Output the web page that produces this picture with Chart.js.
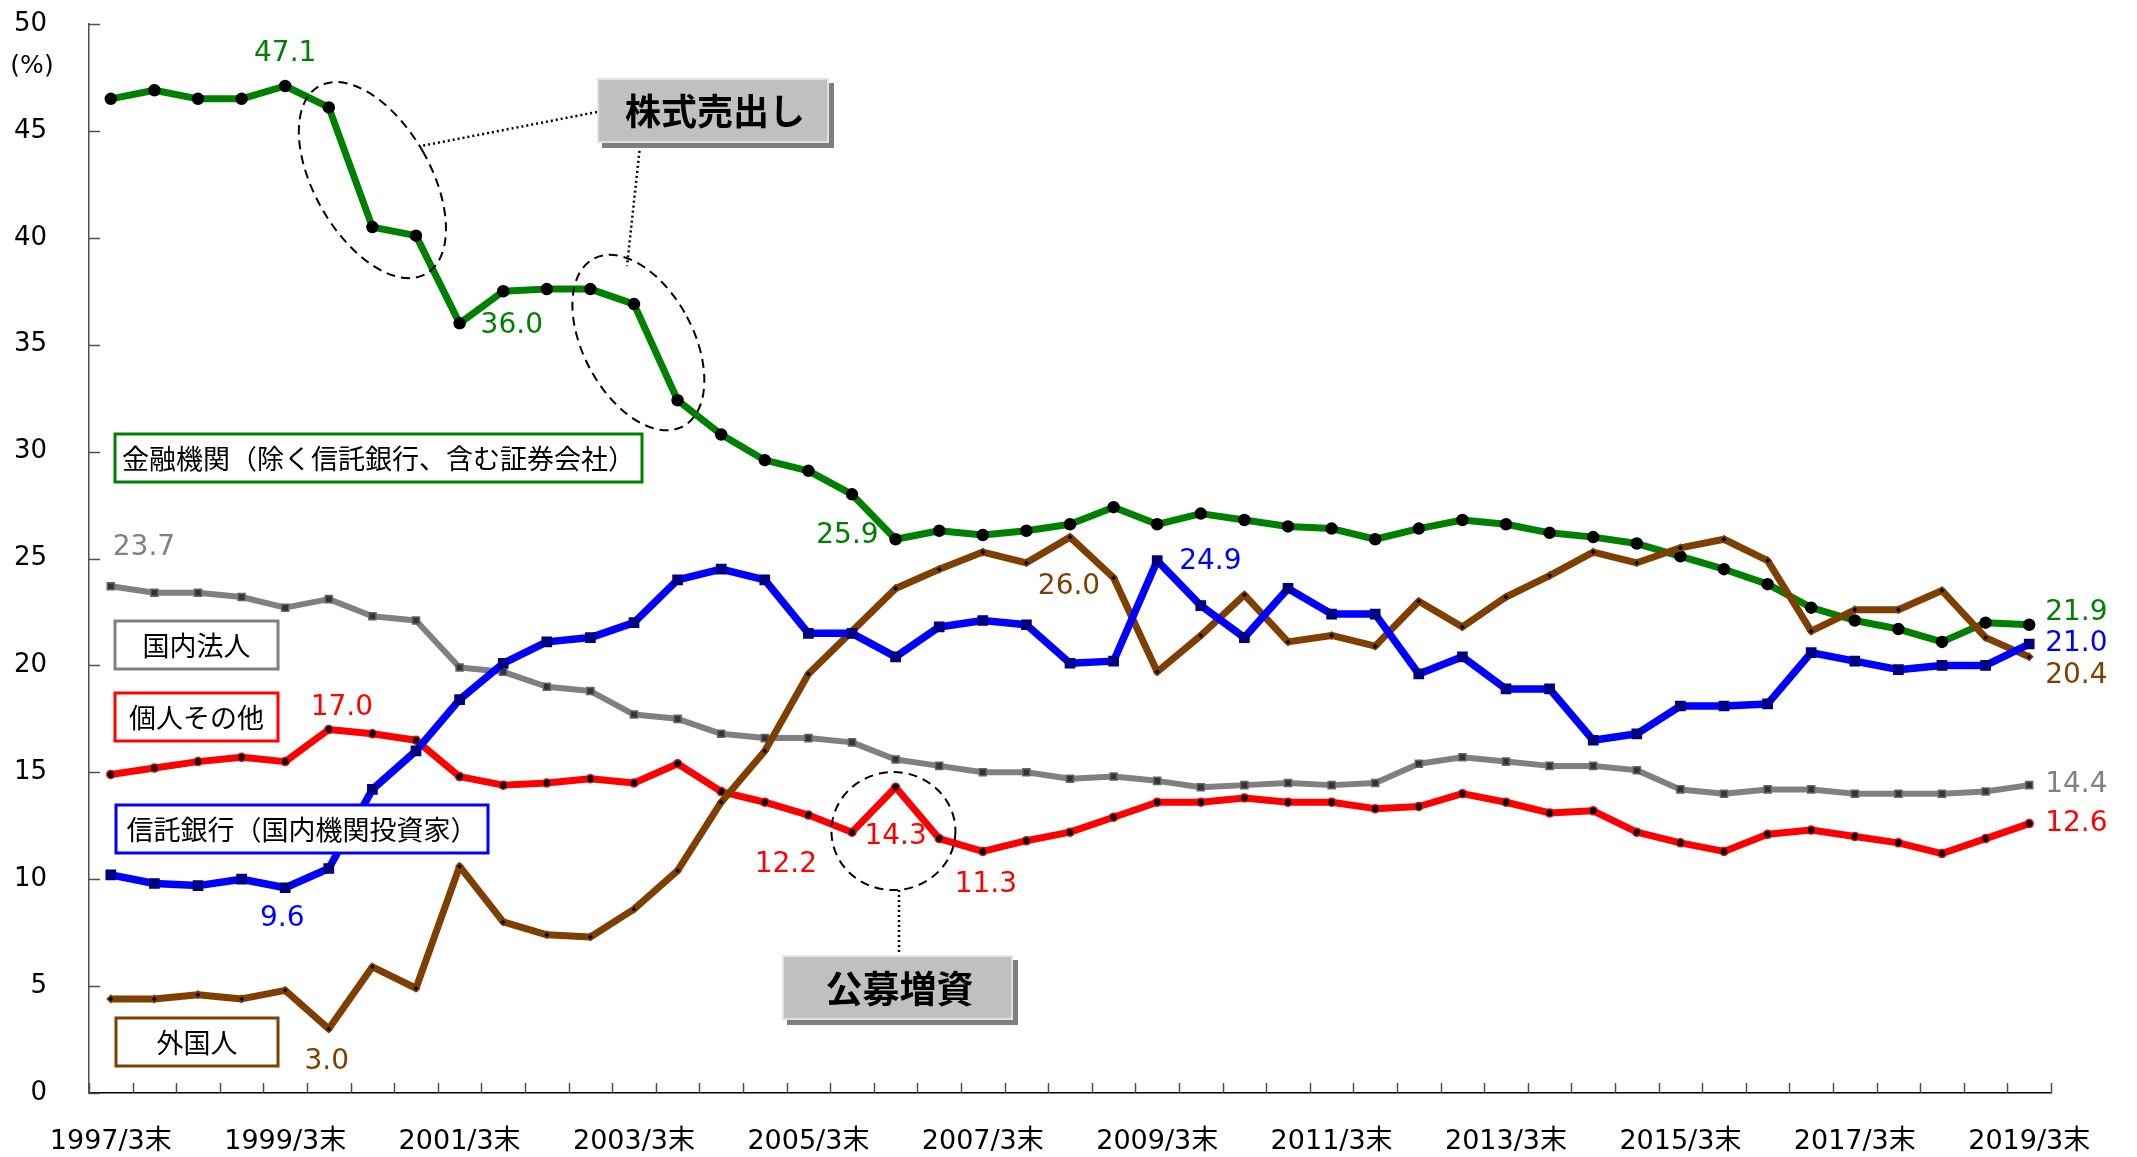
<!DOCTYPE html>
<html lang="ja">
<head>
<meta charset="utf-8">
<title>所有者別持株比率の推移</title>
<script src="https://cdn.jsdelivr.net/npm/chart.js@4.4.1/dist/chart.umd.min.js"></script>
<style>
  html, body { margin: 0; padding: 0; background: #fff; }
  #wrap { width: 2137px; height: 1157px; position: relative; }
</style>
</head>
<body>
<div id="wrap"><canvas id="chart"></canvas></div>
<script>
// half-yearly periods, 1997/3 .. 2019/3
const periods = [
  "1997/3末", "1997/9末", "1998/3末", "1998/9末", "1999/3末", "1999/9末",
  "2000/3末", "2000/9末", "2001/3末", "2001/9末", "2002/3末", "2002/9末",
  "2003/3末", "2003/9末", "2004/3末", "2004/9末", "2005/3末", "2005/9末",
  "2006/3末", "2006/9末", "2007/3末", "2007/9末", "2008/3末", "2008/9末",
  "2009/3末", "2009/9末", "2010/3末", "2010/9末", "2011/3末", "2011/9末",
  "2012/3末", "2012/9末", "2013/3末", "2013/9末", "2014/3末", "2014/9末",
  "2015/3末", "2015/9末", "2016/3末", "2016/9末", "2017/3末", "2017/9末",
  "2018/3末", "2018/9末", "2019/3末"
];

// 金融機関（除く信託銀行、含む証券会社）
const financial = [
  46.5, 46.9, 46.5, 46.5, 47.1, 46.1, 40.5, 40.1, 36.0, 37.5, 37.6, 37.6,
  36.9, 32.4, 30.8, 29.6, 29.1, 28.0, 25.9, 26.3, 26.1, 26.3, 26.6, 27.4,
  26.6, 27.1, 26.8, 26.5, 26.4, 25.9, 26.4, 26.8, 26.6, 26.2, 26.0, 25.7,
  25.1, 24.5, 23.8, 22.7, 22.1, 21.7, 21.1, 22.0, 21.9
];
// 信託銀行（国内機関投資家）
const trustBanks = [
  10.2, 9.8, 9.7, 10.0, 9.6, 10.5, 14.2, 16.0, 18.4, 20.1, 21.1, 21.3,
  22.0, 24.0, 24.5, 24.0, 21.5, 21.5, 20.4, 21.8, 22.1, 21.9, 20.1, 20.2,
  24.9, 22.8, 21.3, 23.6, 22.4, 22.4, 19.6, 20.4, 18.9, 18.9, 16.5, 16.8,
  18.1, 18.1, 18.2, 20.6, 20.2, 19.8, 20.0, 20.0, 21.0
];
// 個人その他
const individuals = [
  14.9, 15.2, 15.5, 15.7, 15.5, 17.0, 16.8, 16.5, 14.8, 14.4, 14.5, 14.7,
  14.5, 15.4, 14.1, 13.6, 13.0, 12.2, 14.3, 11.9, 11.3, 11.8, 12.2, 12.9,
  13.6, 13.6, 13.8, 13.6, 13.6, 13.3, 13.4, 14.0, 13.6, 13.1, 13.2, 12.2,
  11.7, 11.3, 12.1, 12.3, 12.0, 11.7, 11.2, 11.9, 12.6
];
// 国内法人
const corporations = [
  23.7, 23.4, 23.4, 23.2, 22.7, 23.1, 22.3, 22.1, 19.9, 19.7, 19.0, 18.8,
  17.7, 17.5, 16.8, 16.6, 16.6, 16.4, 15.6, 15.3, 15.0, 15.0, 14.7, 14.8,
  14.6, 14.3, 14.4, 14.5, 14.4, 14.5, 15.4, 15.7, 15.5, 15.3, 15.3, 15.1,
  14.2, 14.0, 14.2, 14.2, 14.0, 14.0, 14.0, 14.1, 14.4
];
// 外国人
const foreigners = [
  4.4, 4.4, 4.6, 4.4, 4.8, 3.0, 5.9, 4.9, 10.6, 8.0, 7.4, 7.3,
  8.6, 10.4, 13.6, 16.0, 19.6, 21.6, 23.6, 24.5, 25.3, 24.8, 26.0, 24.1,
  19.7, 21.4, 23.3, 21.1, 21.4, 20.9, 23.0, 21.8, 23.2, 24.2, 25.3, 24.8,
  25.5, 25.9, 24.9, 21.6, 22.6, 22.6, 23.5, 21.3, 20.4
];

const GREEN = "#008000";
const BLUE = "#0000ff";
const RED = "#ff0000";
const GRAY = "#808080";
const BROWN = "#7f3f00";

const FONT_NUM = "'DejaVu Sans', 'Noto Sans CJK JP', sans-serif";
const FONT_JP = "'Noto Sans CJK JP', 'DejaVu Sans', sans-serif";

// values written next to points: [series, index, colour, dx, dy, align]
const valueLabels = [
  [financial, 4, GREEN, 0, -32, "center"],
  [financial, 8, GREEN, 21, 2, "left"],
  [financial, 18, GREEN, -17, -4, "right"],
  [financial, 44, GREEN, 16, -12, "left"],
  [trustBanks, 4, BLUE, -3, 31, "center"],
  [trustBanks, 24, BLUE, 22, 1, "left"],
  [trustBanks, 44, BLUE, 16, 0, "left"],
  [individuals, 5, RED, 13, -22, "center"],
  [individuals, 17, RED, -35, 33, "right"],
  [individuals, 18, RED, 0, 49, "center"],
  [individuals, 20, RED, 3, 33, "center"],
  [individuals, 44, RED, 16, 0, "left"],
  [corporations, 0, GRAY, 2, -39, "left"],
  [corporations, 44, GRAY, 16, 0, "left"],
  [foreigners, 5, BROWN, -2, 33, "center"],
  [foreigners, 22, BROWN, -1, 50, "center"],
  [foreigners, 44, BROWN, 16, 19, "left"]
];

// boxed series names: text, colour, left offset from the y axis, top, width
const nameBoxes = [
  ["金融機関（除く信託銀行、含む証券会社）", GREEN, 26, 434, 527],
  ["国内法人", GRAY, 26, 621, 163],
  ["個人その他", RED, 26, 693, 163],
  ["信託銀行（国内機関投資家）", BLUE, 27, 805, 372],
  ["外国人", BROWN, 27, 1018, 162]
];

function drawCallout(ctx, text, left, top, w, h, size) {
  ctx.fillStyle = "#7f7f7f";
  ctx.fillRect(left + 5, top + 5, w, h);
  ctx.fillStyle = "#c0c0c0";
  ctx.fillRect(left, top, w, h);
  ctx.strokeStyle = "#e2e2e2";
  ctx.lineWidth = 2;
  ctx.strokeRect(left + 1, top + 1, w - 2, h - 2);
  ctx.fillStyle = "#000";
  ctx.font = "bold " + size + "px " + FONT_JP;
  ctx.textAlign = "center";
  ctx.textBaseline = "middle";
  ctx.fillText(text, left + w / 2 + 2, top + h / 2 + 1);
}

const decorations = {
  id: "decorations",
  afterDatasetsDraw(chart) {
    const { ctx, chartArea: area, scales: { x, y } } = chart;
    const px = (i) => x.getPixelForValue(i);
    const py = (v) => y.getPixelForValue(v);
    ctx.save();

    // inward tick marks
    ctx.strokeStyle = "#505050";
    ctx.lineWidth = 1.5;
    ctx.beginPath();
    for (let k = 0; k <= periods.length; k++) {
      const tx = Math.round(px(k - 0.5)) + 0.5;
      ctx.moveTo(tx, area.bottom);
      ctx.lineTo(tx, area.bottom - 10);
    }
    for (let v = 0; v <= 50; v += 5) {
      const ty = Math.round(py(v)) + 0.5;
      ctx.moveTo(area.left, ty);
      ctx.lineTo(area.left + 11, ty);
    }
    ctx.stroke();

    // unit
    ctx.fillStyle = "#000";
    ctx.font = "25px " + FONT_NUM;
    ctx.textAlign = "center";
    ctx.textBaseline = "middle";
    ctx.fillText("(%)", 32, 66);

    // value labels
    ctx.font = "28px " + FONT_NUM;
    for (const [data, i, color, dx, dy, align] of valueLabels) {
      ctx.fillStyle = color;
      ctx.textAlign = align;
      ctx.fillText(data[i].toFixed(1), px(i) + dx, py(data[i]) + dy);
    }

    // series name boxes
    ctx.font = "27px " + FONT_JP;
    for (const [text, color, left, top, w] of nameBoxes) {
      const bx = area.left + left;
      ctx.fillStyle = "#fff";
      ctx.fillRect(bx, top, w, 48);
      ctx.strokeStyle = color;
      ctx.lineWidth = 3;
      ctx.strokeRect(bx, top, w, 48);
      ctx.fillStyle = "#000";
      ctx.textAlign = "center";
      ctx.fillText(text, bx + w / 2, top + 25);
    }

    // dashed ellipses around the big moves
    ctx.strokeStyle = "#000";
    ctx.lineWidth = 2;
    ctx.setLineDash([9, 6]);
    ctx.beginPath();
    ctx.ellipse(px(6), py(42.7), 58, 108, -0.52, 0, Math.PI * 2);
    ctx.stroke();
    ctx.beginPath();
    ctx.ellipse(px(12.1), py(35.1), 55, 95, -0.49, 0, Math.PI * 2);
    ctx.stroke();
    ctx.beginPath();
    ctx.ellipse(px(17.95), py(12.25), 62, 59, 0, 0, Math.PI * 2);
    ctx.stroke();

    // dotted leader lines
    ctx.setLineDash([2, 3]);
    ctx.lineWidth = 2.5;
    ctx.beginPath();
    ctx.moveTo(597, 112);
    ctx.lineTo(421, 146);
    ctx.moveTo(640, 146);
    ctx.lineTo(627, 266);
    ctx.moveTo(899, py(12.25) + 59);
    ctx.lineTo(899, 955);
    ctx.stroke();
    ctx.setLineDash([]);

    drawCallout(ctx, "株式売出し", 597, 78, 232, 65, 36);
    drawCallout(ctx, "公募増資", 782, 955, 231, 65, 37);

    ctx.restore();
  }
};

function lineSet(label, data, color, width, style, radius, fill, edge, order) {
  return {
    label,
    data,
    borderColor: color,
    backgroundColor: color,
    borderWidth: width,
    borderJoinStyle: "round",
    tension: 0,
    pointStyle: style,
    pointRadius: radius,
    pointBackgroundColor: fill,
    pointBorderColor: edge,
    pointBorderWidth: 1.5,
    order
  };
}

new Chart(document.getElementById("chart"), {
  type: "line",
  data: {
    labels: periods,
    datasets: [
      lineSet("信託銀行（国内機関投資家）", trustBanks, BLUE, 7.5, "rect", 6.5, "#000080", "#000080", 1),
      lineSet("外国人", foreigners, BROWN, 7, "rectRot", 3.5, "#000", BROWN, 2),
      lineSet("金融機関（除く信託銀行、含む証券会社）", financial, GREEN, 7, "circle", 5.5, "#000", "#000", 3),
      lineSet("個人その他", individuals, RED, 7, "circle", 4, "#000", RED, 4),
      lineSet("国内法人", corporations, GRAY, 6, "rect", 5, "#333", "#666", 5)
    ]
  },
  options: {
    responsive: true,
    maintainAspectRatio: false,
    animation: false,
    events: [],
    layout: { padding: { top: 24, right: 86, left: 0, bottom: 0 } },
    plugins: {
      legend: { display: false },
      tooltip: { enabled: false }
    },
    scales: {
      x: {
        type: "category",
        offset: true,
        grid: { display: true, drawOnChartArea: false, drawTicks: false, offset: true },
        border: { display: true, color: "#000", width: 1.5 },
        ticks: {
          autoSkip: false,
          maxRotation: 0,
          padding: 33,
          color: "#000",
          font: { family: FONT_NUM, size: 27 },
          callback: (value, index) => (index % 4 === 0 ? periods[index] : "")
        },
        afterFit: (scale) => {
          scale.height = 64;
          scale.paddingLeft = 0;
          scale.paddingRight = 0;
        }
      },
      y: {
        min: 0,
        max: 50,
        grid: { display: true, drawOnChartArea: false, drawTicks: false },
        border: { display: true, color: "#505050", width: 1.5 },
        ticks: {
          stepSize: 5,
          padding: 42,
          color: "#000",
          font: { family: FONT_NUM, size: 26 }
        },
        afterFit: (scale) => {
          scale.width = 89;
          scale.paddingTop = 0;
          scale.paddingBottom = 0;
        }
      }
    }
  },
  plugins: [decorations]
});
</script>
</body>
</html>
